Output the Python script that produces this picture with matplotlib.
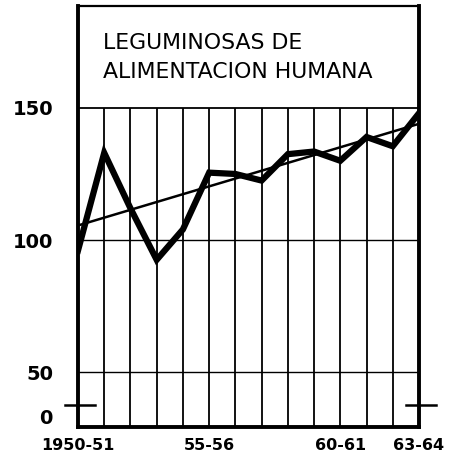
import numpy as np
import matplotlib
matplotlib.use("Agg")
from matplotlib import pyplot as plt

# index numbers (1950-51 ... 1963-64)
seasons = ["1950-51", "51-52", "52-53", "53-54", "54-55", "55-56", "56-57",
           "57-58", "58-59", "59-60", "60-61", "61-62", "62-63", "63-64"]
index_values = [96, 133, 112, 92.5, 104, 125.5, 125, 122.5, 132.5, 133.5,
                130, 139, 135.5, 148]
trend_ends = [105.5, 144]  # straight trend line, first and last season
y_ticks = [33, 50, 100, 150]
y_labels = ["0", "50", "100", "150"]
x_label_pos = [0, 5, 10, 13]
x_labels = ["1950-51", "55-56", "60-61", "63-64"]
title = "LEGUMINOSAS DE\nALIMENTACION HUMANA"

y_bottom, y_top = 29.2, 188.6   # broken axis: baseline is drawn as "0"

fig = plt.figure(figsize=(4.5, 4.68), dpi=100)
ax = fig.add_axes([0.1733, 0.0876, 0.7578, 0.8996])
x = np.arange(len(seasons))

# grid: vertical lines per season up to 150, horizontal lines at 50/100/150
ax.vlines(x[1:-1], y_bottom, 150, color="black", lw=1.3)
ax.hlines([50, 100], 0, x[-1], color="black", lw=1.0)
ax.hlines(150, 0, x[-1], color="black", lw=1.3)

ax.plot([x[0], x[-1]], trend_ends, color="black", lw=1.8, solid_capstyle="butt")
ax.plot(x, index_values, color="black", lw=4.5, solid_joinstyle="miter")

ax.set_xlim(0, x[-1])
ax.set_ylim(y_bottom, y_top)
for side in ["left", "right", "bottom"]:
    ax.spines[side].set_linewidth(2.8)
ax.spines["top"].set_linewidth(1.6)

ax.set_yticks(y_ticks)
ax.set_yticklabels(y_labels, fontsize=14, fontweight="bold")
ax.set_xticks(x_label_pos)
ax.set_xticklabels(x_labels, fontsize=11.5, fontweight="bold")
ax.tick_params(length=0)
ax.tick_params(axis="y", pad=18)
ax.tick_params(axis="x", pad=8)

# axis break marks
for xs in ([-0.5, 0.65], [12.5, 13.65]):
    ax.plot(xs, [37.5, 37.5], color="black", lw=1.8, clip_on=False)

ax.text(0.95, 169, title, fontsize=15.8, ha="left", va="center", linespacing=1.55)

plt.savefig("out.png", dpi=100)
